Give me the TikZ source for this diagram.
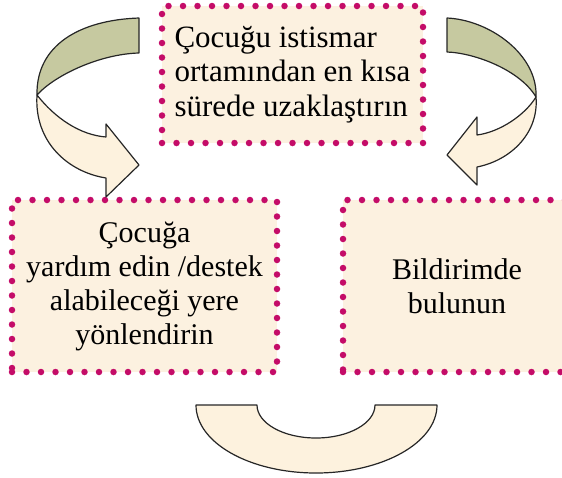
\documentclass[tikz,border=0pt]{standalone}
\usepackage{fontspec}
\setmainfont{Liberation Serif}
\newfontfamily\boxfont{Liberation Serif}
\definecolor{boxfill}{RGB}{252,241,224}
\definecolor{dotpink}{RGB}{196,12,104}
\definecolor{ribbongreen}{RGB}{198,201,160}
\definecolor{ribboncream}{RGB}{253,242,222}
\tikzset{
  dotbox/.style={draw=dotpink, fill=boxfill, line width=6.5pt, line cap=round,
    dash pattern=on 0pt off 14.5pt, inner sep=0pt,
    font=\boxfont\fontsize{30}{34}\selectfont},
  ribbon/.style={draw=black!85, line width=1.2pt, line join=round}
}

\begin{document}
\begin{tikzpicture}[x=1pt,y=-1pt]
  \useasboundingbox (0,0) rectangle (562,477);
  \clip (0,0) rectangle (562,477);
  \node[dotbox, minimum width=261pt, minimum height=137pt, align=left,
    font=\boxfont\fontsize{31}{34.5}\selectfont] (uzaklastir) at (292.5,74.5)
    {Çocuğu istismar\\ortamından en kısa\\sürede uzaklaştırın};
  \node[dotbox, minimum width=265pt, minimum height=172pt, align=center] (yonlendir) at (144.5,286)
    {Çocuğa\\yardım edin /destek\\alabileceği yere\\yönlendirin};
  \node[dotbox, minimum width=228pt, minimum height=172pt, align=center] (bildir) at (457,286)
    {Bildirimde\\bulunun};
  \draw[ribbon, fill=ribbongreen] (139,18) .. controls (80,20) and (36,45) .. (37,95)
    .. controls (55,75) and (100,54) .. (139,53) -- cycle;
  \draw[ribbon, fill=ribboncream] (37,95) .. controls (55,118) and (80,135) .. (106,137)
    -- (106,124) -- (139,165) -- (106,197) -- (106,178)
    .. controls (68,172) and (34,142) .. cycle;
  \draw[ribbon, fill=ribbongreen] (447,18) .. controls (490,20) and (538,55) .. (536,97)
    .. controls (520,70) and (475,53) .. (447,52) -- cycle;
  \draw[ribbon, fill=ribboncream] (536,97) .. controls (525,115) and (500,132) .. (477,135)
    -- (477,117) -- (447,155) -- (477,185) -- (477,167)
    .. controls (512,160) and (539,132) .. cycle;
  \draw[ribbon, fill=ribboncream] (196,405) .. controls (196,443) and (250,473) .. (316,473)
    .. controls (382,473) and (437,443) .. (437,405) -- (375,405)
    .. controls (375,423) and (349,438) .. (316,438)
    .. controls (283,438) and (257,423) .. (257,405) -- cycle;
\end{tikzpicture}
\end{document}
